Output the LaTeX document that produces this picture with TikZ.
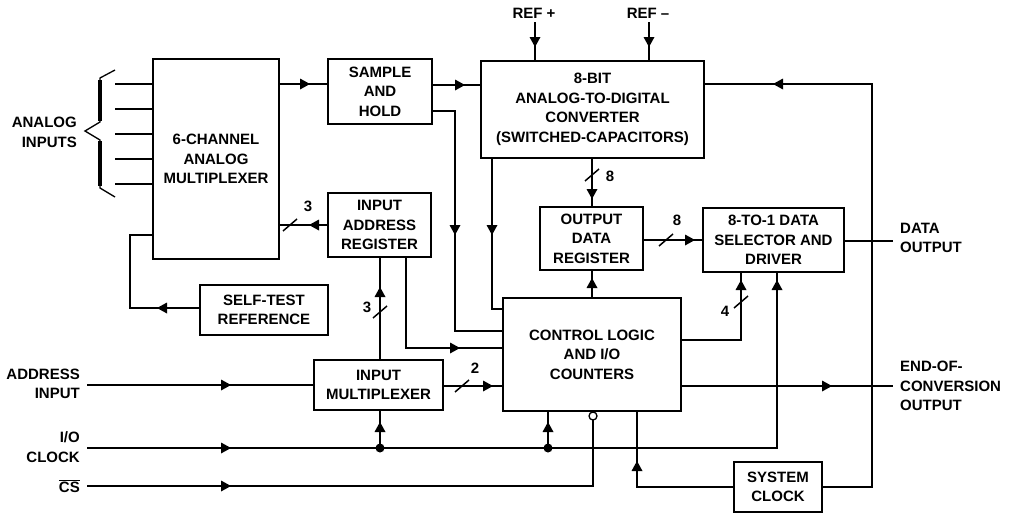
\documentclass[tikz,border=0pt]{standalone}
\usepackage{fontspec}
\setmainfont{Liberation Sans}
\newcommand\lbl{\fontsize{15}{19.5}\selectfont\bfseries}
\tikzset{
  box/.style={draw, line width=2.2pt, inner sep=0pt, align=center, font=\lbl},
  conn/.style={line width=1.5pt},
  lab/.style={inner sep=0pt, font=\lbl},
  ah/.pic={\fill (5,0) -- (-5,-5.5) -- (-5,5.5) -- cycle;},
  sl/.pic={\draw[line width=1.5pt] (-7,6) -- (7,-6);},
}
\begin{document}
\begin{tikzpicture}[x=1pt,y=-1pt]
\useasboundingbox (0,0) rectangle (1011,514);
% boxes
\node[box, minimum width=126, minimum height=200] (mux) at (216,159) {6-CHANNEL\\ANALOG\\MULTIPLEXER};
\node[box, minimum width=104, minimum height=65] (sh) at (380,91.5) {SAMPLE\\AND\\HOLD};
\node[box, minimum width=223, minimum height=97] (adc) at (592.5,109.5) {8-BIT\\ANALOG-TO-DIGITAL\\CONVERTER\\(SWITCHED-CAPACITORS)};
\node[box, minimum width=103, minimum height=64] (iar) at (379.5,225) {INPUT\\ADDRESS\\REGISTER};
\node[box, minimum width=128, minimum height=50] (st) at (264,310) {SELF-TEST\\REFERENCE};
\node[box, minimum width=103, minimum height=63] (odr) at (591.5,238.5) {OUTPUT\\DATA\\REGISTER};
\node[box, minimum width=141, minimum height=64] (sel) at (773.5,240) {8-TO-1 DATA\\SELECTOR AND\\DRIVER};
\node[box, minimum width=129, minimum height=50] (imux) at (378.5,385) {INPUT\\MULTIPLEXER};
\node[box, minimum width=178, minimum height=113] (ctl) at (592,354.5) {CONTROL LOGIC\\AND I/O\\COUNTERS};
\node[box, minimum width=88, minimum height=50] (clk) at (778,487) {SYSTEM\\CLOCK};
% outside labels
\node[lab, anchor=east, align=right] (ain) at (77,132.5) {ANALOG\\INPUTS};
\node[lab] (refp) at (534,13) {REF +};
\node[lab] (refm) at (648,13) {REF –};
\node[lab, anchor=west, align=left] (dout) at (900,238) {DATA\\OUTPUT};
\node[lab, anchor=west, align=left] (eoc) at (900,386) {END-OF-\\CONVERSION\\OUTPUT};
\node[lab, anchor=east, align=right] (addr) at (80,384) {ADDRESS\\INPUT};
\node[lab, anchor=east, align=right] (ioclk) at (80,447) {I/O\\CLOCK};
\node[lab, anchor=east] (cs) at (80,486) {$\overline{\hbox{CS}}$};
% bus width labels
\node[lab] (n3a) at (308,206) {3};
\node[lab] (n8a) at (610,176) {8};
\node[lab] (n8b) at (677,220) {8};
\node[lab] (n4) at (725,311) {4};
\node[lab] (n3b) at (367,307) {3};
\node[lab] (n2) at (475,368) {2};
% free-end coordinates
\coordinate (aIn) at (87,385);
\coordinate (cIn) at (87,448);
\coordinate (sIn) at (87,486);
\coordinate (dOut) at (893,241);
\coordinate (eOut) at (893,386);
\coordinate (rp) at (535,22);
\coordinate (rm) at (649,22);
% brace
\draw[line width=1.3pt, line join=miter] (115,70) -- (100,78) -- (100,122) -- (85,131) -- (100,140) -- (100,188) -- (115,197);
\draw[line width=3.5pt] (100,80) -- (100,121);
\draw[line width=3.5pt] (100,141) -- (100,186);
% analog inputs
\foreach \yy in {84,109,134,159,184} \draw[conn] (115,\yy) -- (mux.west |- 0,\yy);
% mux -> S&H
\draw[conn] (mux.east |- 0,84) -- (sh.west |- 0,84);
\pic at (305,84) {ah};
% S&H -> ADC
\draw[conn] (sh.east |- 0,85) -- (adc.west |- 0,85);
\pic at (460,85) {ah};
% S&H -> control
\draw[conn] (sh.east |- 0,111) -- (455,111) -- (455,331) -- (ctl.west |- 0,331);
\pic[rotate=-90] at (455,230) {ah};
% ADC -> control
\draw[conn] (adc.south -| 492,0) -- (492,309) -- (ctl.west |- 0,309);
\pic[rotate=-90] at (492,230) {ah};
% ADC -> ODR
\draw[conn] (adc.south -| 592,0) -- (odr.north -| 592,0);
\pic at (592,175) {sl};
\pic[rotate=-90] at (592,194) {ah};
% control -> ODR
\draw[conn] (ctl.north -| 592,0) -- (odr.south -| 592,0);
\pic[rotate=90] at (592,283) {ah};
% ODR -> selector
\draw[conn] (odr.east |- 0,240) -- (sel.west |- 0,240);
\pic at (666,240) {sl};
\pic at (690,240) {ah};
% selector -> data output
\draw[conn] (sel.east |- 0,241) -- (dOut);
% refs
\draw[conn] (rp) -- (adc.north -| rp);
\pic[rotate=-90] at (535,42) {ah};
\draw[conn] (rm) -- (adc.north -| rm);
\pic[rotate=-90] at (649,42) {ah};
% system clock -> ADC
\draw[conn] (clk.east |- 0,487) -- (872,487) -- (872,84) -- (adc.east |- 0,84);
\pic[rotate=180] at (778,84) {ah};
% system clock -> control
\draw[conn] (clk.west |- 0,487) -- (637,487) -- (ctl.south -| 637,0);
\pic[rotate=90] at (637,466) {ah};
% control -> selector (4)
\draw[conn] (ctl.east |- 0,340) -- (741,340) -- (sel.south -| 741,0);
\pic[rotate=90] at (741,285) {ah};
\pic at (741,302) {sl};
% control -> EOC
\draw[conn] (ctl.east |- 0,386) -- (eOut);
\pic at (827,386) {ah};
% IAR -> mux (3)
\draw[conn] (iar.west |- 0,225) -- (mux.east |- 0,225);
\pic[rotate=180] at (314,225) {ah};
\pic at (290,225) {sl};
% IAR -> control
\draw[conn] (iar.south -| 406,0) -- (406,348) -- (ctl.west |- 0,348);
\pic at (455,348) {ah};
% input mux -> IAR (3)
\draw[conn] (imux.north -| 380,0) -- (iar.south -| 380,0);
\pic[rotate=90] at (380,292) {ah};
\pic at (380,312) {sl};
% input mux -> control (2)
\draw[conn] (imux.east |- 0,386) -- (ctl.west |- 0,386);
\pic at (462,386) {sl};
\pic at (488,386) {ah};
% address input
\draw[conn] (aIn) -- (imux.west |- aIn);
\pic at (226,385) {ah};
% I/O clock
\draw[conn] (cIn) -- (777,448) -- (sel.south -| 777,0);
\pic at (226,448) {ah};
\pic[rotate=90] at (777,285) {ah};
\coordinate (d1) at (380,448);
\coordinate (d2) at (548,448);
\fill (d1) circle (4.5);
\fill (d2) circle (4.5);
\draw[conn] (d1) -- (imux.south -| d1);
\pic[rotate=90] at (380,427) {ah};
\draw[conn] (d2) -- (ctl.south -| d2);
\pic[rotate=90] at (548,427) {ah};
% CS
\coordinate (csb) at (593,416);
\draw[conn] (sIn) -- (593,486) -- ([yshift=-4pt]csb);
\draw[line width=1.3pt, fill=white] (csb) circle (4);
\pic at (226,486) {ah};
% self-test -> mux
\draw[conn] (st.west |- 0,308) -- (130,308) -- (130,235) -- (mux.west |- 0,235);
\pic[rotate=180] at (162,308) {ah};
\end{tikzpicture}
\end{document}
